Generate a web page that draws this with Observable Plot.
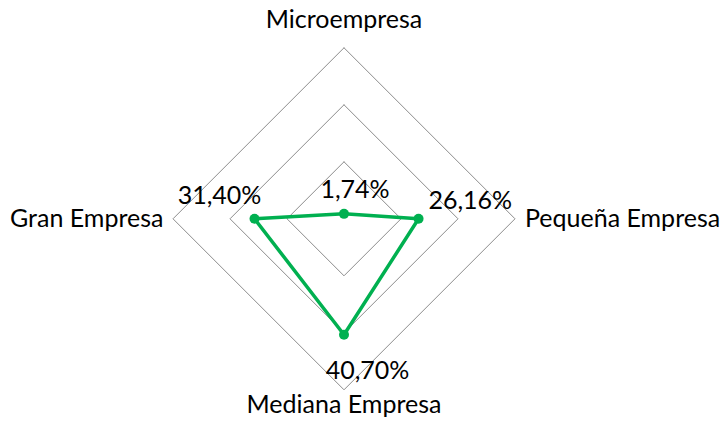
<!DOCTYPE html>
<html>
<head>
<meta charset="utf-8">
<script src="https://cdn.jsdelivr.net/npm/d3@7"></script>
<script src="https://cdn.jsdelivr.net/npm/@observablehq/plot@0.6"></script>
<style>
  html, body { margin: 0; padding: 0; background: #fff; }
  #chart svg { display: block; }
</style>
</head>
<body>
<div id="chart"></div>
<script>
const categories = ["Microempresa", "Pequeña Empresa", "Mediana Empresa", "Gran Empresa"];
const values = [1.74, 26.16, 40.70, 31.40];
const valueLabels = ["1,74%", "26,16%", "40,70%", "31,40%"];
const ringTicks = [20, 40, 60];
const maxValue = 60;

const n = categories.length;
const angle = i => (2 * Math.PI * i) / n; // clockwise from top
const px = (r, i) => r * Math.sin(angle(i));
const py = (r, i) => r * Math.cos(angle(i));

const points = values.map((v, i) => ({
  cat: categories[i], label: valueLabels[i], i, x: px(v, i), y: py(v, i)
}));
const rings = ringTicks.flatMap(t =>
  d3.range(n + 1).map(k => ({ ring: t, x: px(t, k % n), y: py(t, k % n) }))
);
const cats = categories.map((c, i) => ({ cat: c, i, x: px(maxValue, i), y: py(maxValue, i) }));

const FONT = "Lato, 'Open Sans', sans-serif";
const FS = 25;
const green = "#00B050";

const catOpts = [
  { textAnchor: "middle", dx: 0, dy: -27.6 },
  { textAnchor: "start", dx: 10, dy: 0 },
  { textAnchor: "middle", dx: 0, dy: 15.4 },
  { textAnchor: "end", dx: -9.5, dy: 0 }
];
const valOpts = [
  { dx: 11, dy: -23.6 },
  { dx: 51.7, dy: -17.6 },
  { dx: 23.5, dy: 36 },
  { dx: -35, dy: -22.6 }
];

const chart = Plot.plot({
  width: 722,
  height: 426,
  marginLeft: 172.5,
  marginRight: 207.5,
  marginTop: 47.3,
  marginBottom: 36.7,
  style: { fontFamily: FONT, fontSize: FS + "px", background: "#fff", overflow: "visible" },
  x: { axis: null, domain: [-maxValue, maxValue] },
  y: { axis: null, domain: [-maxValue, maxValue] },
  marks: [
    Plot.line(rings, { x: "x", y: "y", z: "ring", stroke: "#8c8c8c", strokeWidth: 1 }),
    Plot.line(points.concat([points[0]]), { x: "x", y: "y", stroke: green, strokeWidth: 3.5, strokeLinejoin: "round" }),
    Plot.dot(points, { x: "x", y: "y", r: 5, fill: green, stroke: "none" }),
    ...cats.map((c, i) => Plot.text([c], {
      x: "x", y: "y", text: "cat", fill: "#000", fontSize: FS,
      textAnchor: catOpts[i].textAnchor, dx: catOpts[i].dx, dy: catOpts[i].dy
    })),
    ...points.map((p, i) => Plot.text([p], {
      x: "x", y: "y", text: "label", fill: "#000", fontSize: FS,
      textAnchor: "middle", dx: valOpts[i].dx, dy: valOpts[i].dy
    }))
  ]
});
document.getElementById("chart").appendChild(chart);
</script>
</body>
</html>
